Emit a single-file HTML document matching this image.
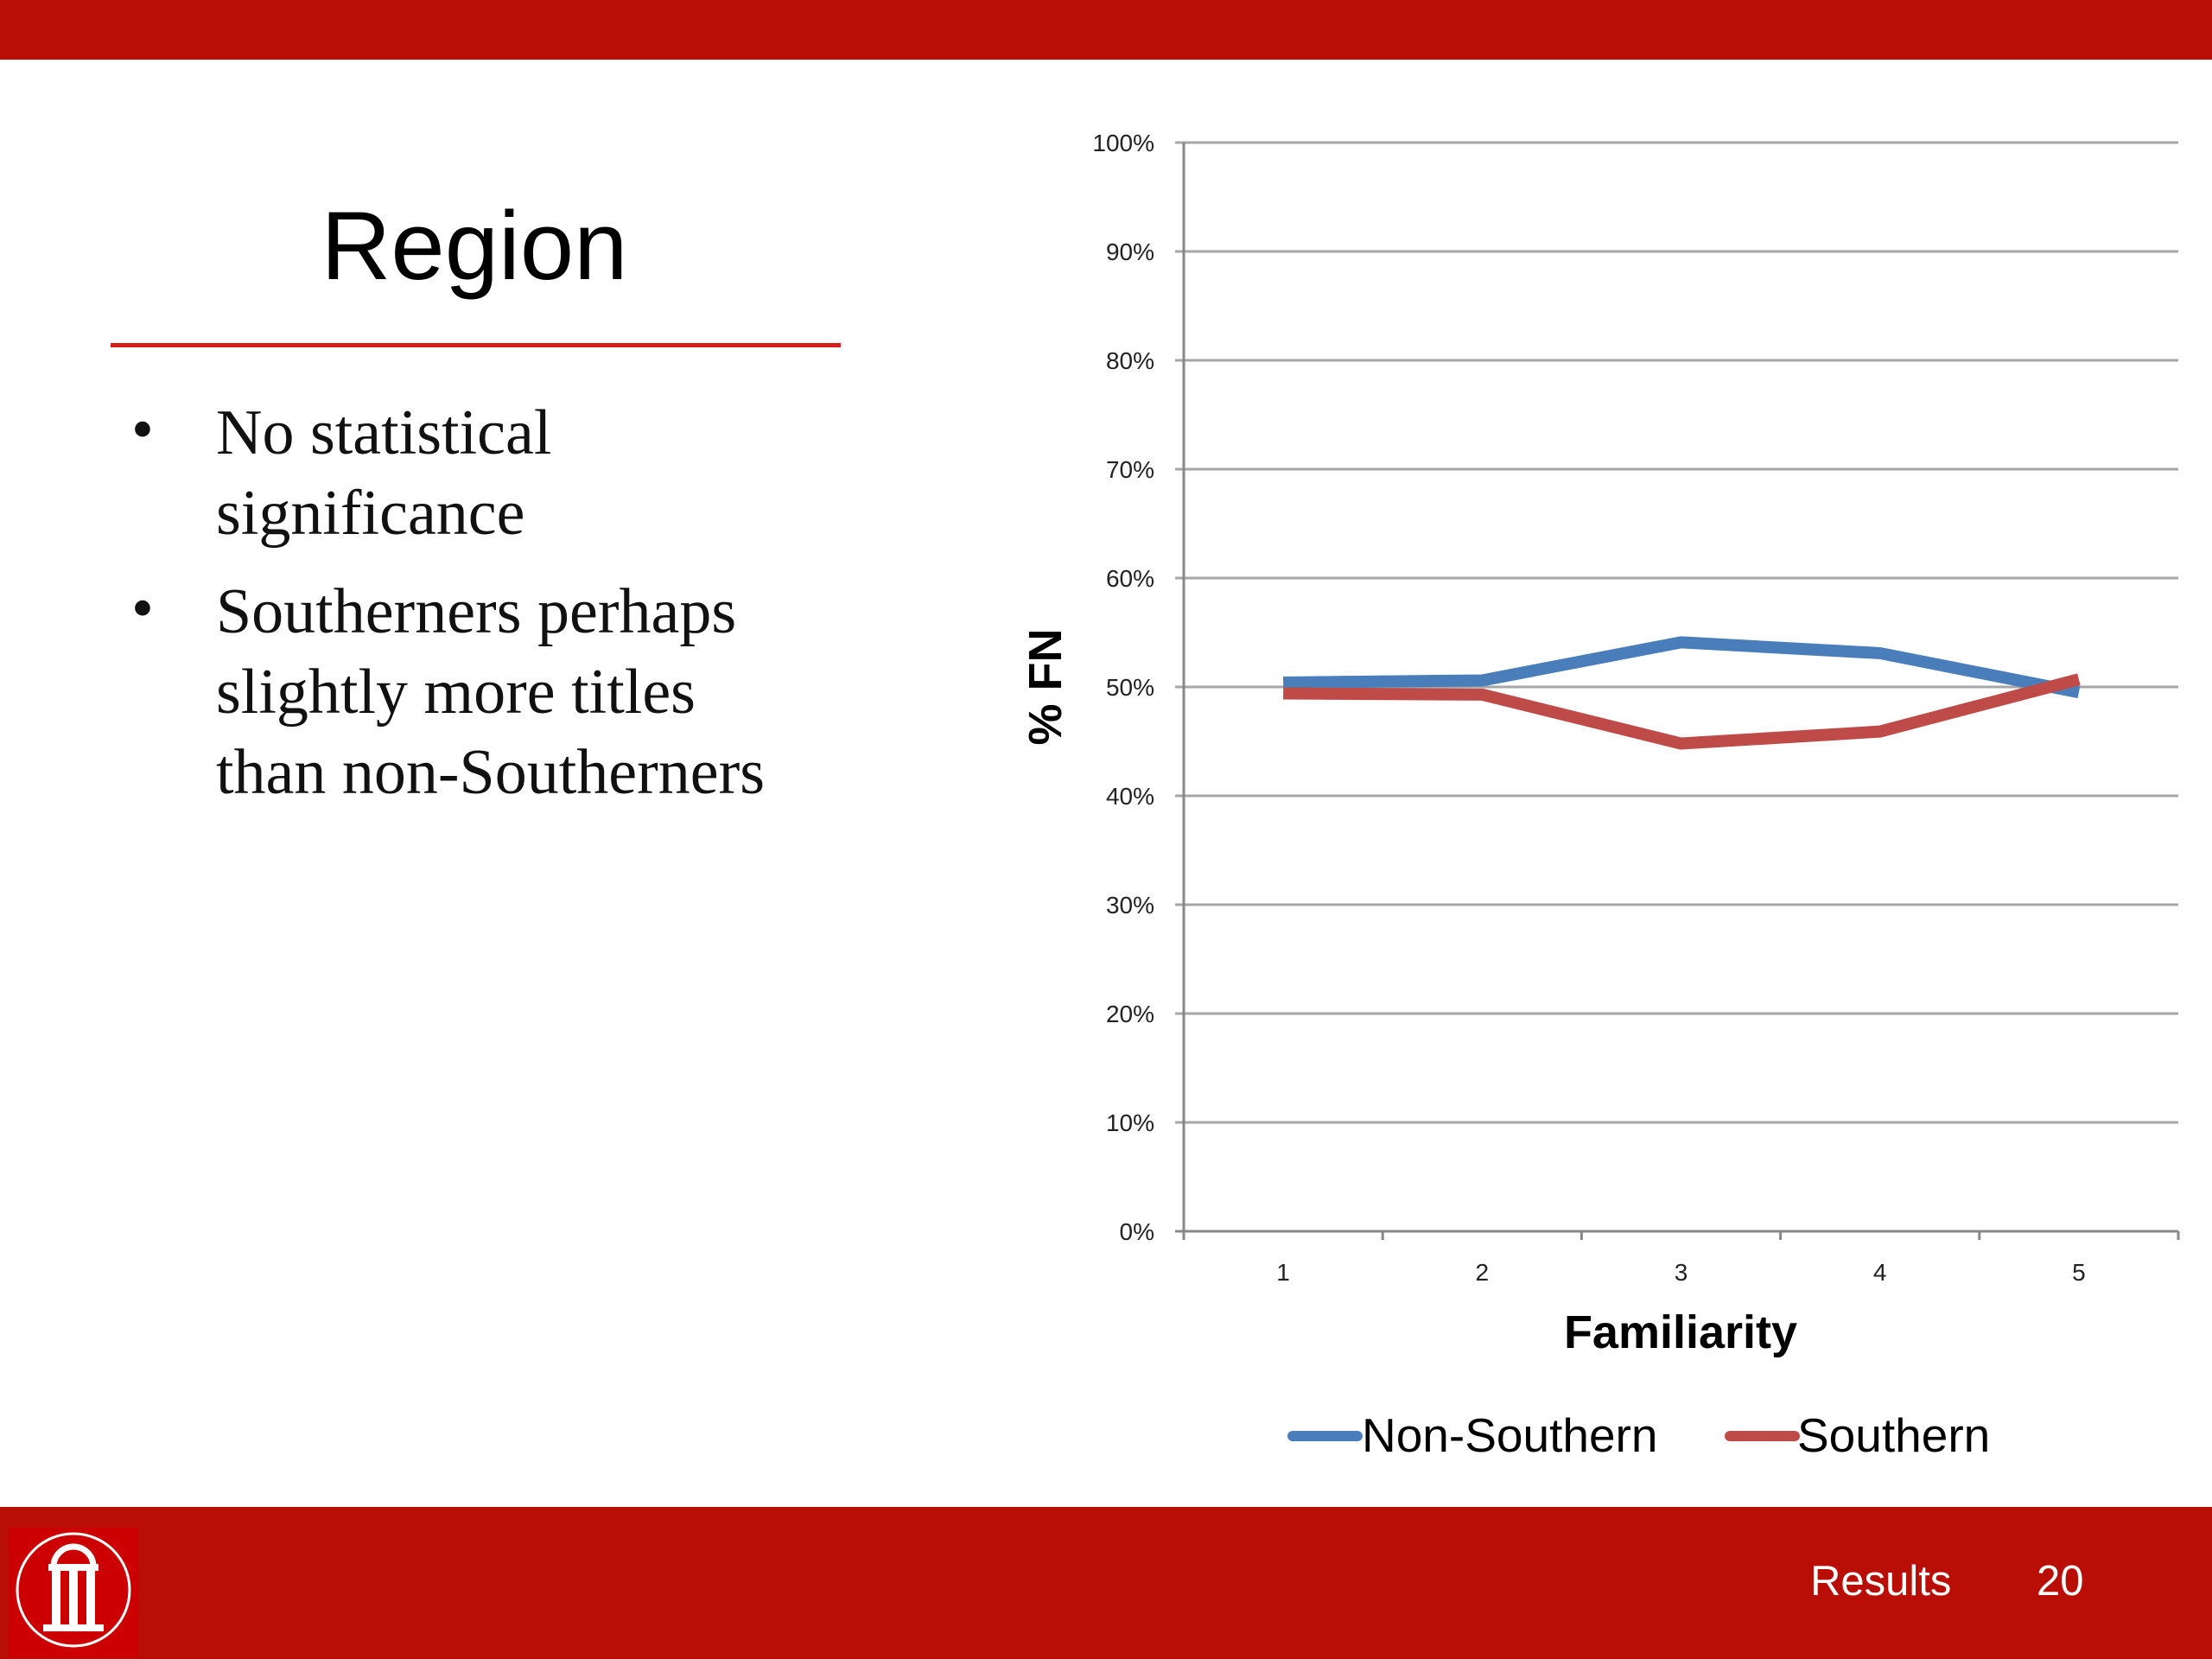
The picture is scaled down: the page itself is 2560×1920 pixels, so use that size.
<!DOCTYPE html>
<html><head><meta charset="utf-8"><style>
body{margin:0;width:2560px;height:1920px;overflow:hidden;background:#fff;position:relative;font-family:"Liberation Sans",sans-serif}
.abs{position:absolute}
</style></head><body>
<div class="abs" style="left:0;top:0;width:2560px;height:69px;background:#b90e05"></div>
<div class="abs" style="left:249px;width:600px;top:220px;text-align:center;font-size:112px;line-height:130px;color:#000">Region</div>
<div class="abs" style="left:128px;top:397px;width:845px;height:5px;background:#d2201a"></div>
<div class="abs" style="left:0;top:0;font-family:'Liberation Serif',serif;font-size:74px;color:#111">
<div class="abs" style="left:152px;top:455px">•</div>
<div class="abs" style="left:250px;top:455px;white-space:nowrap;line-height:93px">No statistical<br>significance</div>
<div class="abs" style="left:152px;top:662px">•</div>
<div class="abs" style="left:250px;top:662px;white-space:nowrap;line-height:93px">Southerners perhaps<br>slightly more titles<br>than non-Southerners</div>
</div>
<svg class="abs" style="left:0;top:0" width="2560" height="1920" id="chart"></svg>
<div class="abs" style="left:0;top:1744px;width:2560px;height:176px;background:#b90e05"></div>
<svg class="abs" style="left:10px;top:1768px" width="150" height="150">
<rect width="150" height="150" fill="#cc0000"/>
<circle cx="75" cy="72" r="65" fill="none" stroke="#fff" stroke-width="3"/>
<path d="M52 45 A23 23 0 0 1 98 45" fill="none" stroke="#fff" stroke-width="7"/>
<rect x="46" y="42" width="58" height="8" fill="#fff"/>
<rect x="50" y="48" width="10" height="68" fill="#fff"/>
<rect x="70" y="48" width="10" height="68" fill="#fff"/>
<rect x="90" y="48" width="10" height="68" fill="#fff"/>
<rect x="40" y="112" width="70" height="8" fill="#fff"/>
</svg>
<div class="abs" style="left:2095px;top:1802px;font-size:49px;color:#fff;font-family:'Liberation Sans',sans-serif">Results</div>
<div class="abs" style="left:2357px;top:1802px;font-size:49px;color:#fff">20</div>
<script>
const categories=["1","2","3","4","5"];
const nonSouthern=[50.4,50.6,54.1,53.1,49.5];
const southern=[49.4,49.3,44.8,45.9,50.7];
const yTicks=[0,10,20,30,40,50,60,70,80,90,100];
const svg=document.getElementById('chart');
const NS='http://www.w3.org/2000/svg';
const X0=1370,X1=2521,Y0=1425,Y1=165;
const bw=(X1-X0)/categories.length;
const xs=i=>X0+bw*(i+0.5);
const ys=v=>Y0-(v/100)*(Y0-Y1);
function el(t,a,txt){const e=document.createElementNS(NS,t);for(const k in a)e.setAttribute(k,a[k]);if(txt!=null)e.textContent=txt;svg.appendChild(e);return e;}
yTicks.forEach(v=>{
 const g=el('line',{x1:X0-10,x2:X1,y1:ys(v),y2:ys(v),stroke:v===0?'#888':'#a6a6a6','stroke-width':3});
 
 
 const t=el('text',{x:1336,y:ys(v)+10,'text-anchor':'end','font-size':28,fill:'#222','font-family':'Liberation Sans,sans-serif'},v+'%');
 
 
});
const ax=el('line',{x1:X0,x2:X0,y1:Y1,y2:Y0,stroke:'#888','stroke-width':3});


for(let i=0;i<=categories.length;i++){const tk=el('line',{x1:X0+bw*i,x2:X0+bw*i,y1:Y0,y2:Y0+10,stroke:'#888','stroke-width':3});

}
categories.forEach((c,i)=>{const t=el('text',{x:xs(i),y:1482,'text-anchor':'middle','font-size':28,fill:'#222','font-family':'Liberation Sans,sans-serif'},c);

});
const xt=el('text',{x:1945,y:1560,'text-anchor':'middle','font-size':54,'font-weight':'bold',fill:'#000','font-family':'Liberation Sans,sans-serif'},'Familiarity');


const yt=el('text',{x:0,y:0,'text-anchor':'middle','font-size':54,'font-weight':'bold',fill:'#000','font-family':'Liberation Sans,sans-serif',transform:'translate(1228,795) rotate(-90)'},'% FN');


function series(vals,col,name){const p=el('polyline',{points:vals.map((v,i)=>xs(i)+','+ys(v)).join(' '),fill:'none',stroke:col,'stroke-width':14,'stroke-linejoin':'round'});

}
series(nonSouthern,'#4a7ebb','series-non-southern');
series(southern,'#be4b48','series-southern');
const l1=el('line',{x1:1496,x2:1571,y1:1662,y2:1662,stroke:'#4a7ebb','stroke-width':12,'stroke-linecap':'round'});


const lt1=el('text',{x:1576,y:1680,'font-size':55,fill:'#000','font-family':'Liberation Sans,sans-serif'},'Non-Southern');


const l2=el('line',{x1:2002,x2:2077,y1:1662,y2:1662,stroke:'#be4b48','stroke-width':12,'stroke-linecap':'round'});


const lt2=el('text',{x:2080,y:1680,'font-size':55,fill:'#000','font-family':'Liberation Sans,sans-serif'},'Southern');


</script>
</body></html>
